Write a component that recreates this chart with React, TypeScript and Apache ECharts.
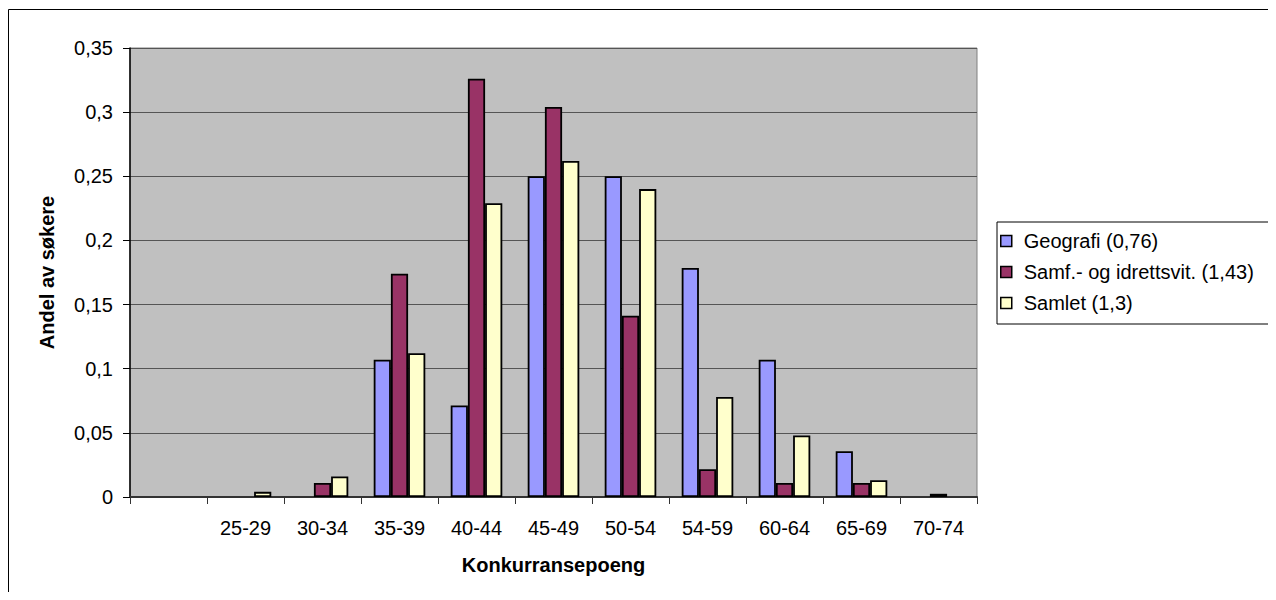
import React, { useEffect, useRef } from "react";
import * as echarts from "echarts";

const categories = ["", "25-29", "30-34", "35-39", "40-44", "45-49", "50-54", "54-59", "60-64", "65-69", "70-74"];
const geografi = [0, 0, 0, 0.107, 0.0714, 0.25, 0.25, 0.1786, 0.107, 0.0357, 0];
const samf = [0, 0, 0.0109, 0.174, 0.326, 0.304, 0.1413, 0.0217, 0.0109, 0.0109, 0.0025];
const samlet = [0, 0.004, 0.016, 0.112, 0.229, 0.262, 0.24, 0.078, 0.048, 0.013, 0];
const seriesNames = ["Geografi (0,76)", "Samf.- og idrettsvit. (1,43)", "Samlet (1,3)"];
const seriesColors = ["#9999FF", "#993366", "#FFFFCC"];
const yTicks = { min: 0, max: 0.35, interval: 0.05 };

const FONT = "'Liberation Sans', Arial, sans-serif";

export default function App() {
  const ref = useRef<HTMLDivElement>(null);
  useEffect(() => {
    if (!ref.current) return;
    const chart = echarts.init(ref.current, null, { renderer: "svg" });
    const data = [geografi, samf, samlet];
    chart.setOption({
      animation: false,
      textStyle: { fontFamily: FONT, color: "#000" },
      graphic: [
        {
          type: "rect",
          shape: { x: 0.5, y: 1.5, width: 3000, height: 3000 },
          style: { fill: "none", stroke: "#000", lineWidth: 1 },
          silent: true,
          z: -10,
        },
      ],
      grid: {
        left: 122,
        top: 40,
        width: 847,
        height: 449,
        show: true,
        backgroundColor: "#C0C0C0",
        borderColor: "#808080",
        borderWidth: 1,
      },
      legend: {
        orient: "vertical",
        left: 989,
        top: 214,
        padding: [9, 40, 11, 3],
        itemWidth: 11,
        itemHeight: 11,
        itemGap: 11,
        borderColor: "#000",
        borderWidth: 1,
        backgroundColor: "#fff",
        icon: "rect",
        itemStyle: { borderColor: "#000", borderWidth: 1.5 },
        textStyle: { fontFamily: FONT, fontSize: 20, color: "#000", lineHeight: 20, padding: [0, 0, 0, 7] },
        data: seriesNames,
      },
      xAxis: {
        type: "category",
        data: categories,
        name: "Konkurransepoeng",
        nameLocation: "middle",
        nameGap: 58,
        nameTextStyle: { fontFamily: FONT, fontSize: 20, fontWeight: "bold", color: "#000" },
        axisLine: { lineStyle: { color: "#333", width: 2 } },
        axisTick: { show: true, length: 7, lineStyle: { color: "#333", width: 1 } },
        axisLabel: { fontFamily: FONT, fontSize: 20, color: "#000", margin: 21, interval: 0 },
        splitLine: { show: false },
      },
      yAxis: {
        type: "value",
        min: yTicks.min,
        max: yTicks.max,
        interval: yTicks.interval,
        name: "Andel av søkere",
        nameLocation: "middle",
        nameRotate: 90,
        nameGap: 73,
        nameTextStyle: { fontFamily: FONT, fontSize: 20, fontWeight: "bold", color: "#000" },
        axisLine: { show: true, lineStyle: { color: "#000", width: 1.5 } },
        axisTick: { show: true, length: 7, lineStyle: { color: "#000", width: 1 } },
        axisLabel: {
          fontFamily: FONT,
          fontSize: 20,
          color: "#000",
          margin: 17,
          formatter: (v: number) => String(+v.toFixed(2)).replace(".", ","),
        },
        splitLine: { show: true, lineStyle: { color: "#555", width: 1 } },
      },
      series: seriesNames.map((name, i) => ({
        name,
        type: "bar",
        data: data[i].map((v) => (v === 0 ? "-" : v)),
        barGap: "0%",
        barCategoryGap: "33%",
        itemStyle: { color: seriesColors[i], borderColor: "#000", borderWidth: 1.8 },
      })),
    });
    return () => chart.dispose();
  }, []);
  return <div ref={ref} style={{ width: 1268, height: 584 }} />;
}
